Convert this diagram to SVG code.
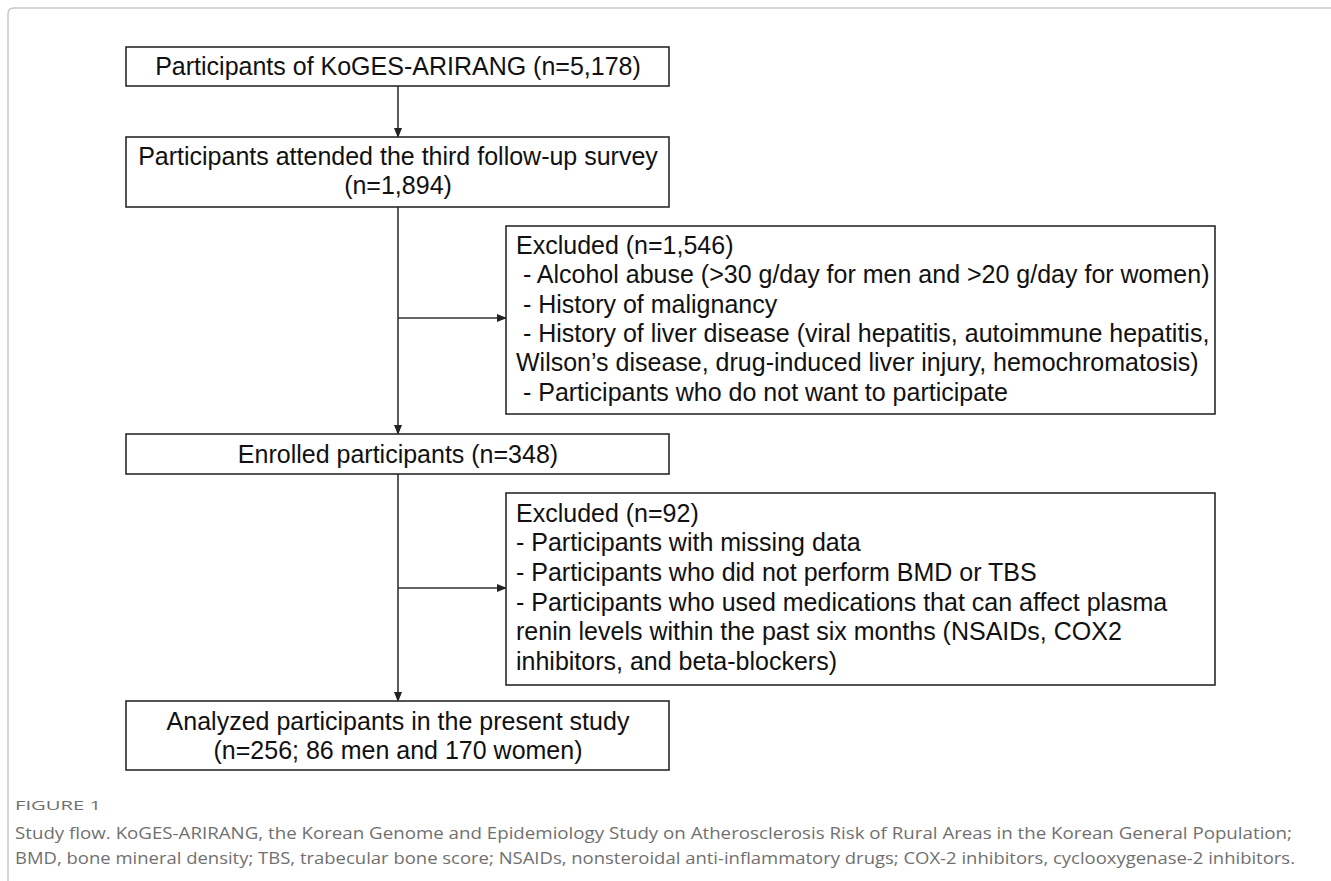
<svg xmlns="http://www.w3.org/2000/svg" width="1331" height="881" viewBox="0 0 1331 881">
<style>
.box{fill:#fff;stroke:#2a2a2a;stroke-width:1.6}
.t{font-family:"Liberation Sans",Arial,sans-serif;font-size:25px;fill:#111}
.c{text-anchor:middle}
.ln{fill:none;stroke:#333;stroke-width:1.6}
.cap{font-family:"Open Sans","Noto Sans",sans-serif;fill:#707070}
</style>
<defs>
<marker id="ah" markerWidth="10" markerHeight="8" refX="9" refY="4" orient="auto" markerUnits="userSpaceOnUse">
<path d="M0,0 L10,4 L0,8 Z" fill="#222"/>
</marker>
</defs>
<rect width="1331" height="881" fill="#fff"/>
<path d="M8,881 L8,14 Q8,8 14,8 L1331,8" fill="none" stroke="#c8c8c8" stroke-width="1.5"/>

<g id="connectors">
<line class="ln" x1="398" y1="86" x2="398" y2="137" marker-end="url(#ah)"/>
<line class="ln" x1="398" y1="207" x2="398" y2="434" marker-end="url(#ah)"/>
<line class="ln" x1="398" y1="318" x2="506" y2="318" marker-end="url(#ah)"/>
<line class="ln" x1="398" y1="474" x2="398" y2="701" marker-end="url(#ah)"/>
<line class="ln" x1="398" y1="588" x2="506" y2="588" marker-end="url(#ah)"/>
</g>

<g id="n1">
<rect class="box" x="126" y="47" width="543" height="39"/>
<text class="t c" x="398" y="75">Participants of KoGES-ARIRANG (n=5,178)</text>
</g>

<g id="n2">
<rect class="box" x="126" y="137" width="543" height="70"/>
<text class="t c" x="398" y="165">Participants attended the third follow-up survey</text>
<text class="t c" x="398" y="194">(n=1,894)</text>
</g>

<g id="ex1">
<rect class="box" x="506" y="226" width="709" height="188"/>
<text class="t" x="516" y="254">Excluded (n=1,546)</text>
<text class="t" x="516" y="283" xml:space="preserve"> - Alcohol abuse (&gt;30 g/day for men and &gt;20 g/day for women)</text>
<text class="t" x="516" y="313" xml:space="preserve"> - History of malignancy</text>
<text class="t" x="516" y="342" xml:space="preserve"> - History of liver disease (viral hepatitis, autoimmune hepatitis,</text>
<text class="t" x="516" y="371">Wilson’s disease, drug-induced liver injury, hemochromatosis)</text>
<text class="t" x="516" y="401" xml:space="preserve"> - Participants who do not want to participate</text>
</g>

<g id="n3">
<rect class="box" x="126" y="434" width="543" height="40"/>
<text class="t c" x="398" y="463">Enrolled participants (n=348)</text>
</g>

<g id="ex2">
<rect class="box" x="506" y="493" width="709" height="192"/>
<text class="t" x="516" y="522">Excluded (n=92)</text>
<text class="t" x="516" y="551">- Participants with missing data</text>
<text class="t" x="516" y="581">- Participants who did not perform BMD or TBS</text>
<text class="t" x="516" y="611">- Participants who used medications that can affect plasma</text>
<text class="t" x="516" y="640">renin levels within the past six months (NSAIDs, COX2</text>
<text class="t" x="516" y="670">inhibitors, and beta-blockers)</text>
</g>

<g id="n4">
<rect class="box" x="126" y="701" width="543" height="69"/>
<text class="t c" x="398" y="730">Analyzed participants in the present study</text>
<text class="t c" x="398" y="759">(n=256; 86 men and 170 women)</text>
</g>

<g id="caption">
<text class="cap" x="15" y="810" font-size="12" textLength="86" lengthAdjust="spacingAndGlyphs">FIGURE 1</text>
<text class="cap" x="15" y="839" font-size="17" textLength="1277" lengthAdjust="spacingAndGlyphs">Study flow. KoGES-ARIRANG, the Korean Genome and Epidemiology Study on Atherosclerosis Risk of Rural Areas in the Korean General Population;</text>
<text class="cap" x="15" y="864" font-size="17" textLength="1280" lengthAdjust="spacingAndGlyphs">BMD, bone mineral density; TBS, trabecular bone score; NSAIDs, nonsteroidal anti-inflammatory drugs; COX-2 inhibitors, cyclooxygenase-2 inhibitors.</text>
</g>
</svg>
